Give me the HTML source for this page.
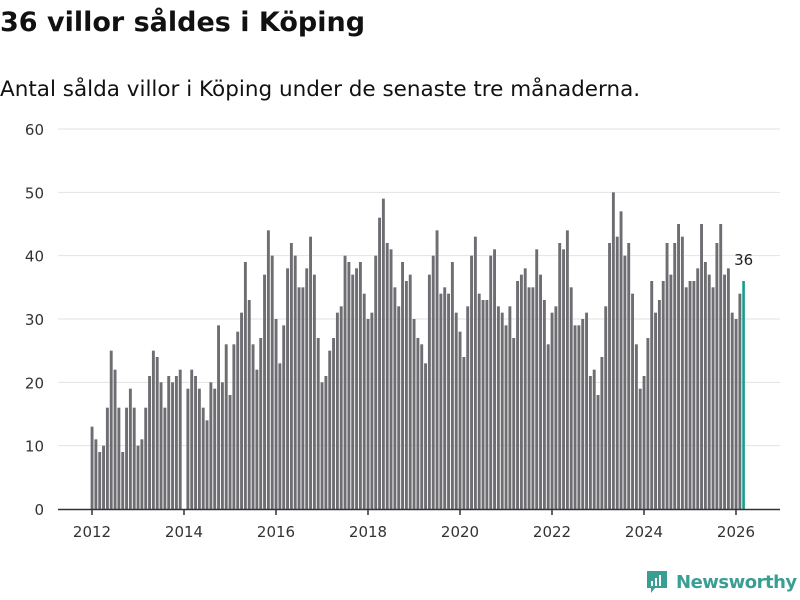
<!DOCTYPE html>
<html><head><meta charset="utf-8"><style>
body{margin:0;background:#fff;font-family:"DejaVu Sans","Liberation Sans",sans-serif;}
#wrap{position:relative;width:800px;height:600px;overflow:hidden;}
h1{position:absolute;left:0;top:7px;margin:0;font-size:27px;font-weight:bold;color:#111;}
p.sub{position:absolute;left:0;top:77px;margin:0;font-size:21.5px;color:#111;}
</style></head><body><div id="wrap">
<h1>36 villor såldes i Köping</h1>
<p class="sub">Antal sålda villor i Köping under de senaste tre månaderna.</p>
<svg id="chart" width="800" height="600" style="position:absolute;left:0;top:0"></svg>
<div style="position:absolute;left:646px;top:570px;display:flex;align-items:center;">
<svg width="22" height="24"><path d="M1 1h20v17h-12l-4 5v-5h-4z" fill="#3a9e93"/><rect x="5" y="11" width="2" height="5" fill="#fff"/><rect x="9" y="8" width="2" height="8" fill="#fff"/><rect x="13" y="5" width="2" height="11" fill="#fff"/></svg>
<span style="margin-left:8px;font-size:18px;color:#3a9e93;font-weight:bold;letter-spacing:-0.5px;">Newsworthy</span></div>
</div>
<script>
const values=[13,11,9,10,16,25,22,16,9,16,19,16,
10,11,16,21,25,24,20,16,21,20,21,22,
0,19,22,21,19,16,14,20,19,29,20,26,18,
26,28,31,39,33,26,22,27,37,44,40,30,
23,29,38,42,40,35,35,38,43,37,27,20,
21,25,27,31,32,40,39,37,38,39,34,30,
31,40,46,49,42,41,35,32,39,36,37,30,
27,26,23,37,40,44,34,35,34,39,31,28,
24,32,40,43,34,33,33,40,41,32,31,29,
32,27,36,37,38,35,35,41,37,33,26,31,
32,42,41,44,35,29,29,30,31,21,22,18,
24,32,42,50,43,47,40,42,34,26,19,21,
27,36,31,33,36,42,37,42,45,43,35,36,
36,38,45,39,37,35,42,45,37,38,31,30,34,36];
const yTicks=[0,10,20,30,40,50,60];
const xTicks=[2012,2014,2016,2018,2020,2022,2024,2026];
const NS="http://www.w3.org/2000/svg";
const svg=document.getElementById('chart');
const y0=509,y60=129,x2012=92,perYear=46;
const y=v=>y0-(v/60)*(y0-y60);
const xi=i=>x2012+(i/12)*perYear;
const xy=yr=>x2012+(yr-2012)*perYear;
function mk(t,a){const e=document.createElementNS(NS,t);for(const k in a)e.setAttribute(k,a[k]);svg.appendChild(e);return e;}
yTicks.forEach(t=>{
 if(t>0){const l=mk('line',{x1:58,x2:780,y1:y(t),y2:y(t),stroke:'#e2e2e2','stroke-width':1});
 
 }
 const tx=mk('text',{x:44,y:y(t)+6,'text-anchor':'end','font-size':15,fill:'#333','font-family':'DejaVu Sans, Liberation Sans, sans-serif'});
 tx.textContent=t;
 
 
});
values.forEach((v,i)=>{
 const last=i===values.length-1;
 const r=mk('rect',{x:xi(i)-1.4,y:y(v),width:last?2.6:2.9,height:y0-y(v),fill:last?'#139e8e':'#6e6d72'});
 
 
});
const lv=values[values.length-1];
const lab=mk('text',{x:xi(values.length-1),y:y(lv)-16,'text-anchor':'middle','font-size':15,fill:'#222','font-family':'DejaVu Sans, Liberation Sans, sans-serif'});
lab.textContent=lv;


const ax=mk('line',{x1:58,x2:780,y1:y0+0.5,y2:y0+0.5,stroke:'#333','stroke-width':1.5});


xTicks.forEach(t=>{
 const tk=mk('line',{x1:xy(t),x2:xy(t),y1:y0,y2:y0+6,stroke:'#333','stroke-width':1.5});
 
 
 const tx=mk('text',{x:xy(t),y:537,'text-anchor':'middle','font-size':15,fill:'#333','font-family':'DejaVu Sans, Liberation Sans, sans-serif'});
 tx.textContent=t;
 
 
});
</script></body></html>
